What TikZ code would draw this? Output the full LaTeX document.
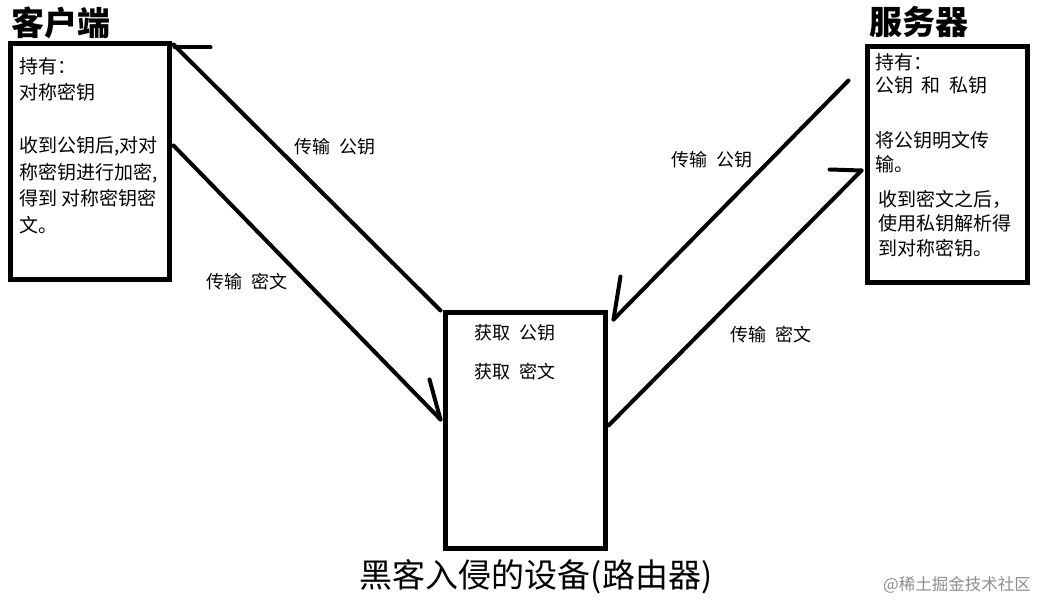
\documentclass[tikz,border=0pt]{standalone}
\usepackage{fontspec}
\setmainfont{Noto Sans CJK SC}
\usetikzlibrary{positioning,calc}
\tikzset{font=\fontsize{19}{26.5}\selectfont}

\begin{document}
\begin{tikzpicture}[x=1pt,y=-1pt,
    box/.style={draw,line width=5pt,inner sep=0pt},
    title/.style={font=\fontsize{33}{33}\selectfont\bfseries,inner sep=0pt},
    body/.style={anchor=north west,align=left,inner sep=0pt},
    wire/.style={line width=4pt,line cap=round},
    lbl/.style={font=\fontsize{18}{18}\selectfont,inner sep=0pt}]
    \useasboundingbox (0,0) rectangle (1044,604);

    % the three boxes
    \node[box,minimum width=159pt,minimum height=235pt] (client) at (89.5,161.5) {};
    \node[box,minimum width=160pt,minimum height=235pt] (server) at (947,164.5) {};
    \node[box,minimum width=160pt,minimum height=236pt] (mitm) at (525,430) {};

    \node[title,anchor=west] (clientT) at (11,23) {客户端};
    \node[title,anchor=west] (serverT) at (869,22) {服务器};
    \node[title,font=\fontsize{33}{33}\selectfont] (mitmT) at (536,577) {黑客入侵的设备(路由器)};

    % texts in the boxes
    \node[body] (clientA) at (19,57) {持有：\\对称密钥\\ \\收到公钥后,对对\\称密钥进行加密,\\得到 对称密钥密\\文。};
    \node[body,font=\fontsize{19}{23.5}\selectfont] (serverA) at (875,53) {持有：\\公钥 \ 和 \ 私钥\\[8pt] \\将公钥明文传\\输。};
    \node[body,font=\fontsize{19}{24.5}\selectfont] (serverB) at (878,190) {收到密文之后，\\使用私钥解析得\\到对称密钥。};
    \node[lbl] (getKey) at (515,333) {获取 \ 公钥};
    \node[lbl,below=21pt of getKey] (getMsg) {获取 \ 密文};

    % connectors
    \draw[wire] ($(mitm.north west)+(-2,1)$) -- ($(client.north east)+(2,3)$);
    \draw[wire] ($(client.north east)+(3,6)$) -- ++(36,0);
    \draw[wire] ($(client.north east)+(2,104)$) -- ($(mitm.north west)+(-2,110)$);
    \draw[wire] ($(mitm.north west)+(-2,110)$) -- ++(-11,-40);
    \draw[wire] ($(server.north west)+(-16,36)$) -- ($(mitm.north east)+(6,10)$);
    \draw[wire] ($(mitm.north east)+(6,10)$) -- ++(7,-43);
    \draw[wire] ($(mitm.north east)+(1,116)$) -- ($(server.north west)+(-3,126)$);
    \draw[wire] ($(server.north west)+(-3,126)$) -- ++(-32,-1);

    \node[lbl] (l1) at (335,147) {传输 \ 公钥};
    \node[lbl] (l2) at (247,282) {传输 \ 密文};
    \node[lbl] (l3) at (712,160) {传输 \ 公钥};
    \node[lbl] (l4) at (771,335) {传输 \ 密文};

    \node[font=\fontsize{16.5}{16.5}\selectfont,text=black!45] (mark) at (957,585) {@稀土掘金技术社区};
\end{tikzpicture}
\end{document}
